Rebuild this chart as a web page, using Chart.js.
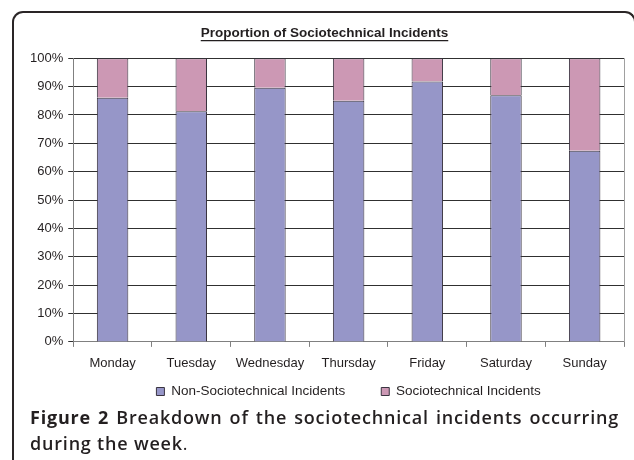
<!DOCTYPE html>
<html>
<head>
<meta charset="utf-8">
<script src="https://cdn.jsdelivr.net/npm/chart.js@4/dist/chart.umd.min.js"></script>
<style>
  html, body { margin: 0; padding: 0; background: #fff; overflow: hidden; }
  body { width: 634px; height: 460px; position: relative; }
  #frame {
    position: absolute; left: 12px; top: 11px; width: 620px; height: 460px;
    border: 2px solid #2a2526; border-bottom: none; border-radius: 11px 11px 0 0;
  }
  #wrap { position: absolute; left: 0; top: 0; width: 634px; height: 444px; }
  #caption {
    position: absolute; left: 30px; top: 404px; width: 589px;
    font-family: "Open Sans", "Noto Sans", sans-serif; font-size: 18px; line-height: 26px;
    letter-spacing: 0.8px; font-weight: 600; color: #231f20;
    text-align: justify; text-align-last: left;
  }
  #caption b { font-weight: 700; }
</style>
</head>
<body>
<div id="frame"></div>
<div id="wrap"><canvas id="chart"></canvas></div>
<div id="caption"><b>Figure 2</b> Breakdown of the sociotechnical incidents occurring during the week<span style="font-weight:400">.</span></div>
<script>
const chartTitle = 'Proportion of Sociotechnical Incidents';
const days = ['Monday', 'Tuesday', 'Wednesday', 'Thursday', 'Friday', 'Saturday', 'Sunday'];
const nonSocio = [86.1, 81.3, 89.6, 85.0, 91.8, 86.9, 67.4];
const socio = [13.9, 18.7, 10.4, 15.0, 8.2, 13.1, 32.6];
const seriesNames = ['Non-Sociotechnical Incidents', 'Sociotechnical Incidents'];

const font = 'Liberation Sans, Arial, sans-serif';
const titleSize = 13.5;
const titlePadTop = 25;

const titleUnderline = {
    id: 'titleUnderline',
    afterDraw(chart) {
        const t = chart.titleBlock;
        const ctx = chart.ctx;
        ctx.save();
        ctx.font = 'bold ' + titleSize + 'px ' + font;
        const w = ctx.measureText(chartTitle).width;
        const cx = (t.left + t.right) / 2;
        const y = t.top + titlePadTop + titleSize * 1.2 / 2 + 7.5;
        ctx.strokeStyle = '#231f20';
        ctx.lineWidth = 1.2;
        ctx.beginPath();
        ctx.moveTo(cx - w / 2, y);
        ctx.lineTo(cx + w / 2, y);
        ctx.stroke();
        ctx.restore();
    }
};

const rightEdge = {
    id: 'rightEdge',
    afterDatasetsDraw(chart) {
        const a = chart.chartArea;
        const ctx = chart.ctx;
        ctx.save();
        ctx.strokeStyle = '#a0a0a0';
        ctx.lineWidth = 1;
        ctx.beginPath();
        ctx.moveTo(Math.round(a.right) + 0.5, a.top);
        ctx.lineTo(Math.round(a.right) + 0.5, a.bottom);
        ctx.stroke();
        ctx.restore();
    }
};

// keep the wide gap between legend items but sit the legend row close under the axis
const legendPlacement = {
    id: 'legendPlacement',
    afterLayout(chart) {
        const lg = chart.legend;
        const pad = lg.options.labels.padding;
        lg.top = chart.scales.x.bottom + 11 - pad - 13.5 / 2;
        lg.bottom = lg.top + lg.height;
    }
};

new Chart(document.querySelector('#chart').getContext('2d'), {
    type: 'bar',
    data: {
        labels: days,
        datasets: [
            {
                label: seriesNames[0],
                data: nonSocio,
                backgroundColor: '#9696c8',
                borderColor: '#3a3440',
                borderWidth: 1
            },
            {
                label: seriesNames[1],
                data: socio,
                backgroundColor: '#cc98b4',
                borderColor: '#3a3440',
                borderWidth: 1
            }
        ]
    },
    options: {
        responsive: true,
        maintainAspectRatio: false,
        animation: false,
        categoryPercentage: 1,
        barPercentage: 0.4,
        layout: { padding: { left: 25, right: 10, top: 0, bottom: 4 } },
        plugins: {
            title: {
                display: true,
                text: chartTitle,
                color: '#231f20',
                font: { family: font, size: titleSize, weight: 'bold', lineHeight: 1.2 },
                padding: { top: titlePadTop, bottom: 17 }
            },
            legend: {
                position: 'bottom',
                fullSize: false,
                labels: {
                    color: '#231f20',
                    font: { family: font, size: 13.5 },
                    boxWidth: 8,
                    boxHeight: 8,
                    padding: 36
                }
            },
            tooltip: { enabled: false }
        },
        scales: {
            x: {
                stacked: true,
                grid: {
                    display: true,
                    drawOnChartArea: false,
                    drawTicks: true,
                    tickLength: 5,
                    color: '#808080',
                    offset: true
                },
                border: { display: true, color: '#808080' },
                ticks: {
                    color: '#231f20',
                    font: { family: font, size: 13 },
                    padding: 9,
                    maxRotation: 0,
                    autoSkip: false
                }
            },
            y: {
                stacked: true,
                min: 0,
                max: 100,
                grid: {
                    color: '#303030',
                    tickColor: '#303030',
                    tickLength: 5,
                    drawTicks: true
                },
                border: { display: true, color: '#808080' },
                ticks: {
                    stepSize: 10,
                    padding: 5,
                    color: '#231f20',
                    font: { family: font, size: 13 },
                    callback: value => value + '%'
                }
            }
        }
    },
    plugins: [titleUnderline, rightEdge, legendPlacement]
});
</script>
</body>
</html>
